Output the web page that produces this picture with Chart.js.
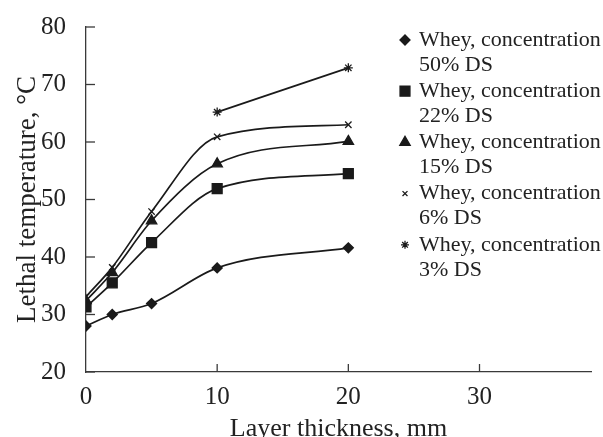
<!DOCTYPE html>
<html>
<head>
<meta charset="utf-8">
<script src="https://cdn.jsdelivr.net/npm/chart.js@4/dist/chart.umd.min.js"></script>
<style>
  html, body { margin: 0; padding: 0; background: #fff; }
  #wrap { width: 603px; height: 437px; }
</style>
</head>
<body>
<div id="wrap"><canvas id="c" width="603" height="437"></canvas></div>
<script>
// ---- data ----
const layerThickness = [0, 2, 5, 10, 20];
const whey50 = [28.0, 30.0, 31.9, 38.1, 41.6];
const whey22 = [31.3, 35.5, 42.5, 51.9, 54.5];
const whey15 = [32.4, 37.3, 46.3, 56.2, 60.1];
const whey6  = [33.1, 38.2, 47.9, 60.9, 63.0];
const whey3Thickness = [10, 20];
const whey3  = [65.2, 72.9];

const seriesLine1 = 'Whey, concentration';
const seriesLine2 = ['50% DS', '22% DS', '15% DS', '6% DS', '3% DS'];
const xTickValues = [0, 10, 20, 30];
const yTickValues = [20, 30, 40, 50, 60, 70, 80];
const xTitle = 'Layer thickness, mm';
const yTitle = 'Lethal temperature, °C';

const pts = (xs, ys) => xs.map((x, i) => ({ x: x, y: ys[i] }));

const ink = '#1a1a1a';
const axisInk = '#3a3a3a';
const styles = [
  { pointStyle: 'rectRot',  radius: 5,   legendRadius: 5 },
  { pointStyle: 'rect',     radius: 7,   legendRadius: 7 },
  { pointStyle: 'triangle', radius: 6,   legendRadius: 6 },
  { pointStyle: 'crossRot', radius: 4.5, legendRadius: 3.5 },
  { pointStyle: 'star',     radius: 4.5, legendRadius: 4 }
];
const seriesData = [
  pts(layerThickness, whey50),
  pts(layerThickness, whey22),
  pts(layerThickness, whey15),
  pts(layerThickness, whey6),
  pts(whey3Thickness, whey3)
];

const datasets = seriesData.map((d, i) => ({
  label: seriesLine1 + ' ' + seriesLine2[i],
  data: d,
  borderColor: ink,
  backgroundColor: ink,
  borderWidth: 1.7,
  cubicInterpolationMode: 'monotone',
  fill: false,
  pointStyle: styles[i].pointStyle,
  pointRadius: styles[i].radius,
  pointHoverRadius: styles[i].radius,
  pointBorderWidth: 1.3,
  pointBackgroundColor: ink,
  pointBorderColor: ink
}));

const inwardTicks = {
  id: 'inwardTicks',
  afterDraw(chart) {
    const ctx = chart.ctx;
    const xs = chart.scales.x, ys = chart.scales.y;
    ctx.save();
    ctx.strokeStyle = axisInk;
    ctx.lineWidth = 1.3;
    ys.ticks.forEach(t => {
      const py = ys.getPixelForValue(t.value);
      ctx.beginPath();
      ctx.moveTo(ys.right, py);
      ctx.lineTo(ys.right + 9, py);
      ctx.stroke();
    });
    xs.ticks.forEach(t => {
      if (t.value === xs.min) return;
      const px = xs.getPixelForValue(t.value);
      ctx.beginPath();
      ctx.moveTo(px, xs.top);
      ctx.lineTo(px, xs.top - 8);
      ctx.stroke();
    });
    ctx.restore();
  }
};

const twoLineLegend = {
  id: 'twoLineLegend',
  afterDraw(chart, args, opts) {
    const ctx = chart.ctx;
    ctx.save();
    ctx.font = opts.fontSize + 'px "Liberation Serif"';
    ctx.textBaseline = 'middle';
    ctx.textAlign = 'left';
    chart.data.datasets.forEach((ds, i) => {
      const cy = opts.top + i * opts.entryGap;
      ctx.fillStyle = ink;
      ctx.strokeStyle = ink;
      ctx.lineWidth = 1.3;
      Chart.helpers.drawPoint(ctx, {
        pointStyle: ds.pointStyle,
        radius: styles[i].legendRadius,
        rotation: 0,
        borderWidth: 1.3
      }, opts.markerX, cy);
      ctx.fillStyle = '#222';
      ctx.fillText(seriesLine1, opts.textX, cy);
      ctx.fillText(seriesLine2[i], opts.textX, cy + opts.lineGap);
    });
    ctx.restore();
  }
};

Chart.defaults.font.family = '"Liberation Serif", "Times New Roman", serif';

new Chart(document.getElementById('c'), {
  type: 'line',
  data: { datasets: datasets },
  plugins: [inwardTicks, twoLineLegend],
  options: {
    responsive: false,
    animation: false,
    events: [],
    layout: { padding: { top: 26, right: 12, bottom: 0, left: 0 } },
    plugins: {
      legend: { display: false },
      tooltip: { enabled: false },
      twoLineLegend: { top: 40, entryGap: 51.2, lineGap: 25, markerX: 405, textX: 419, fontSize: 22 }
    },
    scales: {
      x: {
        type: 'linear',
        min: 0,
        max: 38.5,
        afterBuildTicks: (scale) => { scale.ticks = xTickValues.map(v => ({ value: v })); },
        afterFit: (scale) => { scale.height = 65; },
        grid: { display: false },
        border: { display: true, color: axisInk, width: 1.3 },
        ticks: { color: '#222', font: { size: 25 }, padding: 2, maxRotation: 0, autoSkip: false },
        title: { display: true, text: xTitle, color: '#222', font: { size: 26, lineHeight: 0.6 }, padding: 0 }
      },
      y: {
        type: 'linear',
        min: 20,
        max: 80,
        afterBuildTicks: (scale) => { scale.ticks = yTickValues.map(v => ({ value: v })); },
        afterFit: (scale) => { scale.width = 86; },
        grid: { display: false },
        border: { display: true, color: axisInk, width: 1.3 },
        ticks: { color: '#222', font: { size: 25 }, padding: 12, autoSkip: false },
        title: { display: true, text: yTitle, color: '#222', font: { size: 27, lineHeight: 1 }, padding: { top: 14, bottom: 0 } }
      }
    }
  }
});
</script>
</body>
</html>
